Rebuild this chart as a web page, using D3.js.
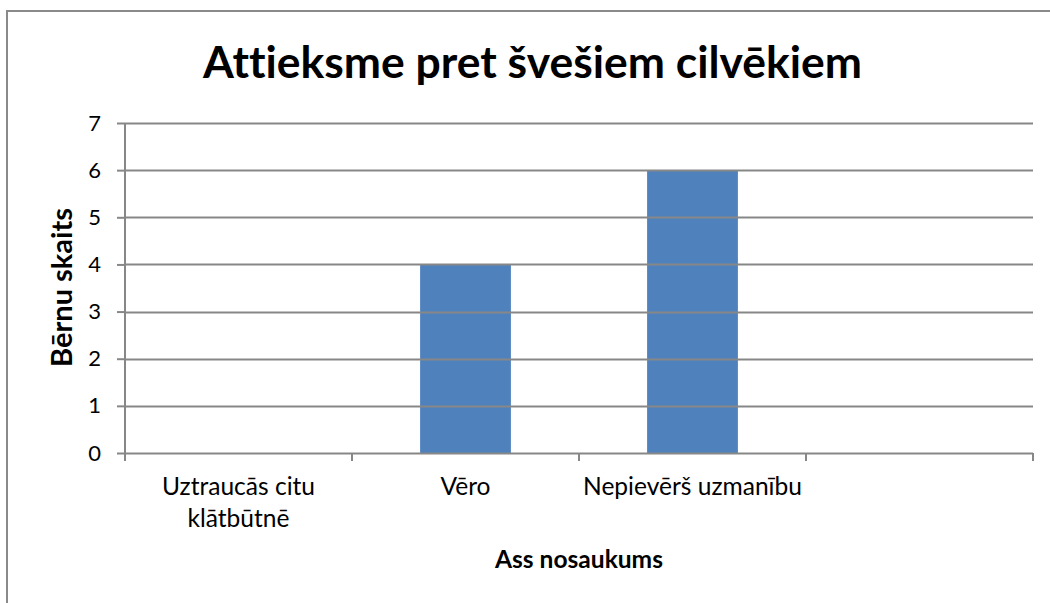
<!DOCTYPE html>
<html>
<head>
<meta charset="utf-8">
<script src="https://cdn.jsdelivr.net/npm/d3@7"></script>
<style>
  html, body { margin: 0; padding: 0; background: #fff; }
  svg { display: block; }
  text { font-family: Lato, "Noto Sans", sans-serif; fill: #000; font-variant-ligatures: none; font-feature-settings: "liga" 0, "clig" 0; }
</style>
</head>
<body>
<div id="chart"></div>
<script>
// ---- data ----
const title = "Attieksme pret švešiem cilvēkiem";
const categories = ["Uztraucās citu klātbūtnē", "Vēro", "Nepievērš uzmanību", ""];
const values = [null, 4, 6, null];
const yTicks = [0, 1, 2, 3, 4, 5, 6, 7];
const yTitle = "Bērnu skaits";
const xTitle = "Ass nosaukums";

// ---- layout ----
const W = 1050, H = 603;
const plot = { left: 125, right: 1033, top: 123, bottom: 453 };
const gridColor = "#878787";
const barColor = "#4F81BD";

const svg = d3.select("#chart").append("svg")
  .attr("width", W).attr("height", H);

svg.append("rect").attr("width", W).attr("height", H).attr("fill", "#fff");

// chart border (extends beyond the visible area on right and bottom)
svg.append("rect")
  .attr("x", 7).attr("y", 11)
  .attr("width", W + 20).attr("height", H + 20)
  .attr("fill", "none").attr("stroke", "#8a8a8a").attr("stroke-width", 2);

const y = d3.scaleLinear().domain([0, 7]).range([plot.bottom, plot.top]);
const x = d3.scaleBand().domain(categories.map((d, i) => i))
  .range([plot.left, plot.right]).paddingInner(0.6).paddingOuter(0.3);
const step = x.step();

// helper: fit text to a target width by adjusting font-size
function fit(sel, target, base) {
  sel.style("font-size", base + "px");
  const w = sel.node().getComputedTextLength();
  const s = base * target / w;
  sel.style("font-size", s.toFixed(2) + "px");
  return s;
}

// bars
svg.append("g").selectAll("rect")
  .data(values.map((v, i) => ({ v, i })).filter(d => d.v != null))
  .join("rect")
  .attr("x", d => x(d.i))
  .attr("width", x.bandwidth())
  .attr("y", d => y(d.v))
  .attr("height", d => y(0) - y(d.v))
  .attr("fill", barColor);

// gridlines
svg.append("g").selectAll("line")
  .data(yTicks.filter(t => t > 0))
  .join("line")
  .attr("x1", plot.left).attr("x2", plot.right)
  .attr("y1", d => Math.round(y(d)) + 0.5).attr("y2", d => Math.round(y(d)) + 0.5)
  .attr("stroke", gridColor).attr("stroke-width", 2);

// measure label font size
const probe = svg.append("text").text(categories[2]);
const labelSize = fit(probe, 219, 24);
probe.remove();

// y axis
const yAxis = d3.axisLeft(y).tickValues(yTicks).tickSize(8).tickPadding(16).tickFormat(d3.format("d"));
const gy = svg.append("g").attr("transform", `translate(${plot.left},0)`).call(yAxis);
gy.select(".domain").remove();
gy.selectAll(".tick line").attr("stroke", gridColor).attr("stroke-width", 2);
gy.append("line").attr("x1", 0).attr("x2", 0).attr("y1", plot.top).attr("y2", plot.bottom + 8)
  .attr("stroke", gridColor).attr("stroke-width", 2);
gy.selectAll(".tick text").attr("font-family", null).style("font-size", "22px").attr("fill", "#000");

// x axis line + boundary ticks
const gx = svg.append("g");
gx.append("line").attr("x1", plot.left).attr("x2", plot.right)
  .attr("y1", Math.round(y(0)) + 0.5).attr("y2", Math.round(y(0)) + 0.5)
  .attr("stroke", gridColor).attr("stroke-width", 2);
const boundaries = d3.range(categories.length + 1).map(i => plot.left + i * step);
gx.selectAll("line.b").data(boundaries).join("line").attr("class", "b")
  .attr("x1", d => d).attr("x2", d => d)
  .attr("y1", y(0)).attr("y2", y(0) + 8)
  .attr("stroke", gridColor).attr("stroke-width", 2);

// category labels with wrapping
const catG = svg.append("g");
categories.forEach((c, i) => {
  if (!c) return;
  const cx = x(i) + x.bandwidth() / 2;
  const t = catG.append("text").attr("x", cx).attr("y", 495)
    .attr("text-anchor", "middle").style("font-size", labelSize.toFixed(2) + "px");
  const words = c.split(" ");
  let line = [], lineNo = 0;
  let ts = t.append("tspan").attr("x", cx).attr("y", 495);
  words.forEach(w => {
    line.push(w);
    ts.text(line.join(" "));
    if (ts.node().getComputedTextLength() > step - 4 && line.length > 1) {
      line.pop();
      ts.text(line.join(" "));
      line = [w];
      lineNo++;
      ts = t.append("tspan").attr("x", cx).attr("y", 495 + lineNo * 32).text(w);
    }
  });
});

// title
const tt = svg.append("text").attr("x", 532.5).attr("y", 78)
  .attr("text-anchor", "middle").style("font-weight", "bold").text(title);
fit(tt, 659, 44);

// y axis title
const yt = svg.append("text")
  .attr("transform", "translate(72,287.5) rotate(-90)")
  .attr("text-anchor", "middle").style("font-weight", "bold").text(yTitle);
fit(yt, 159, 24);

// x axis title
const xt = svg.append("text").attr("x", 579).attr("y", 568)
  .attr("text-anchor", "middle").style("font-weight", "bold").text(xTitle);
fit(xt, 168, 24);
</script>
</body>
</html>
